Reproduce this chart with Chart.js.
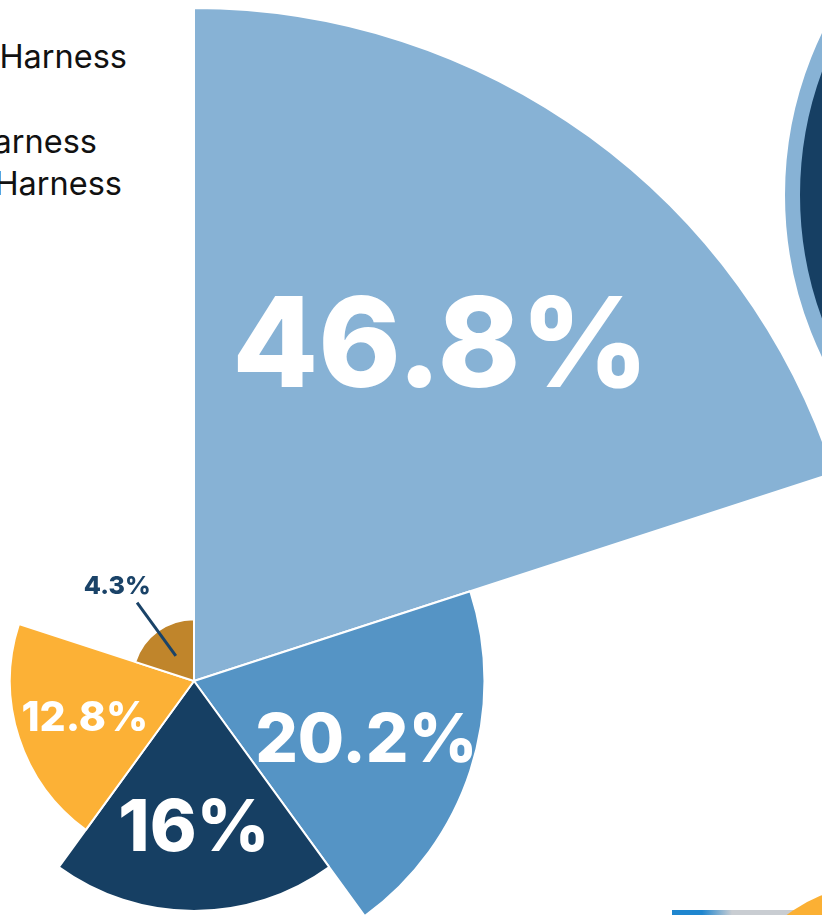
<!DOCTYPE html>
<html>
<head>
<meta charset="utf-8">
<script src="https://cdn.jsdelivr.net/npm/chart.js@4/dist/chart.umd.min.js"></script>
<style>
  html, body { margin: 0; padding: 0; }
  body {
    width: 822px; height: 915px; overflow: hidden; position: relative;
    background: #fff; font-family: Inter, "Open Sans", sans-serif;
  }
  #chartCanvas { position: absolute; left: -479px; top: 8px; }
  .legend-row {
    position: absolute; white-space: nowrap; font-size: 32.5px; line-height: 42px;
    color: #111; display: flex; align-items: center; gap: 12px;
  }
  .legend-row .swatch { width: 26px; height: 26px; border-radius: 50%; }
  /* side panel circle and the bits of the next block */
  .ring {
    position: absolute; left: 785px; top: -178px; width: 746px; height: 746px;
    box-sizing: border-box; border-radius: 50%; background: #163f63; border: 15px solid #87b2d5;
  }
  .next-bar {
    position: absolute; left: 672px; top: 910px; width: 150px; height: 5px;
    background: linear-gradient(90deg, #1f86cf 0, #1f86cf 30px, #c9cdd2 60px, #c9cdd2 100%);
  }
  .next-dot {
    position: absolute; left: 724px; top: 884px; width: 312px; height: 312px;
    border-radius: 50%; background: #fbb034;
  }
</style>
</head>
<body>
<div class="ring"></div>
<div class="next-bar"></div>
<div class="next-dot"></div>
<div id="legend"></div>
<canvas id="chartCanvas" width="1346" height="1346"></canvas>
<script>
const categories = ["Collar", "Back-Clip Harness", "Slip Lead", "Front-Clip Harness", "Step-In Harness"];
const shares = [46.8, 20.2, 16, 12.8, 4.3];
const colors = ["#87b2d5", "#5594c5", "#163f63", "#fcb136", "#c0852b"];

// label font size per slice, and where each legend row ends on the left edge
const labelSizes = [125, 67, 71, 41, 25];
const legendEnds = [-30, 127, -30, 97, 122];

const legend = document.getElementById("legend");
categories.forEach((name, i) => {
  const row = document.createElement("div");
  row.className = "legend-row";
  row.style.top = (-6 + i * 42.25) + "px";
  row.style.right = (822 - legendEnds[i]) + "px";
  row.innerHTML = `<span class="swatch" style="background:${colors[i]}"></span><span>${name}</span>`;
  legend.appendChild(row);
});

// percentage text at each slice centroid, small slices get a leader line
const sliceLabels = {
  id: "sliceLabels",
  afterDatasetsDraw(chart) {
    const ctx = chart.ctx;
    chart.getDatasetMeta(0).data.forEach((arc, i) => {
      const { x, y, startAngle, endAngle, outerRadius } =
        arc.getProps(["x", "y", "startAngle", "endAngle", "outerRadius"], true);
      const mid = (startAngle + endAngle) / 2;
      const half = (endAngle - startAngle) / 2;
      const cos = Math.cos(mid), sin = Math.sin(mid);
      const text = shares[i] + "%";
      ctx.save();
      ctx.textAlign = "center";
      ctx.textBaseline = "alphabetic";
      ctx.font = `800 ${labelSizes[i]}px Inter, "Open Sans", sans-serif`;
      if (outerRadius > 100) {
        const d = 2 * outerRadius * Math.sin(half) / (3 * half);
        const m = ctx.measureText(text);
        ctx.fillStyle = "#ffffff";
        ctx.fillText(text, x + d * cos, y + d * sin + m.actualBoundingBoxAscent / 2);
      } else {
        ctx.strokeStyle = "#1a4368";
        ctx.lineWidth = 3;
        ctx.beginPath();
        ctx.moveTo(x + outerRadius * 0.5 * cos, y + outerRadius * 0.5 * sin);
        ctx.lineTo(x + (outerRadius + 35) * cos, y + (outerRadius + 35) * sin);
        ctx.stroke();
        const d = outerRadius + 62;
        const m = ctx.measureText(text);
        ctx.fillStyle = "#1a4368";
        ctx.fillText(text, x + d * cos - 4, y + d * sin + m.actualBoundingBoxAscent / 2 + 4);
      }
      ctx.restore();
    });
  }
};

new Chart(document.getElementById("chartCanvas"), {
  type: "polarArea",
  data: {
    labels: categories,
    datasets: [{
      data: shares,
      backgroundColor: colors,
      borderColor: "#ffffff",
      borderWidth: 2
    }]
  },
  options: {
    responsive: false,
    animation: false,
    layout: { padding: 0 },
    scales: {
      r: { display: false, min: 0, max: Math.max(...shares) }
    },
    plugins: { legend: { display: false }, tooltip: { enabled: false } }
  },
  plugins: [sliceLabels]
});
</script>
</body>
</html>
